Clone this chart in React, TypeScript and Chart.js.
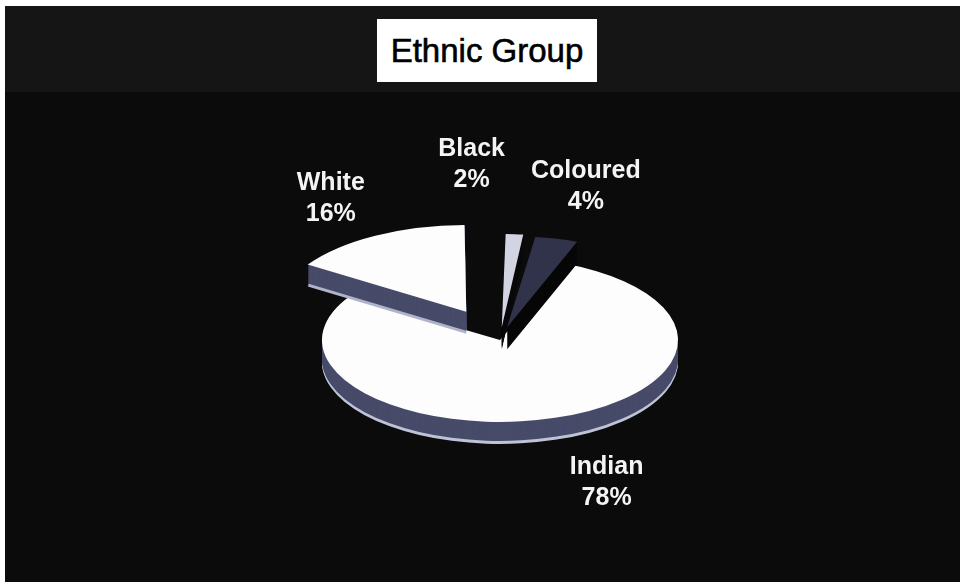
import React, { useEffect, useRef } from "react";
import { Chart, registerables } from "chart.js";

Chart.register(...registerables);

// ---- data ----
const categories = ["Black", "Coloured", "Indian", "White"];
const percentages = [2, 4, 78, 16];
const percentLabels = ["2%", "4%", "78%", "16%"];
const titleText = "Ethnic Group";

// ---- styles ----
const topColors = ["#d2d4e2", "#30334a", "#fdfdfd", "#fdfdfd"];
const sideColors = ["#0a0a0a", "#060606", "#474b69", "#474b69"];
const rimColors = ["#0a0a0a", "#060606", "#bfc3d6", "#b0b4ca"];
const explodeOffsets = [112, 112, 0, 280];
const SQUASH = 0.46;
const DEPTH = 22;
const LABEL_RADIUS = 345;
const labelNudges = [[-50, -17], [0, 0], [0, -8], [-3, -2]];
const drawOrder = [2, 1, 0, 3];

const pie3d = {
  id: "pie3d",
  beforeDatasetsDraw(chart: any) {
    const meta = chart.getDatasetMeta(0);
    const arcs = meta.data as any[];
    if (!arcs.length) return;
    const ctx = chart.ctx as CanvasRenderingContext2D;
    const cx = arcs[0].x;
    const cy = arcs[0].y;
    ctx.save();
    ctx.translate(cx, cy);
    ctx.scale(1, SQUASH);
    ctx.translate(-cx, -cy);
    for (const i of drawOrder) {
      const el = arcs[i];
      const orig = el.options;
      for (let k = DEPTH; k >= 1; k--) {
        const col = k >= DEPTH - 2 ? rimColors[i] : sideColors[i];
        el.options = { ...orig, backgroundColor: col, borderColor: col, borderWidth: 0 };
        ctx.save();
        ctx.translate(0, k / SQUASH);
        el.draw(ctx);
        ctx.restore();
      }
      el.options = orig;
      el.draw(ctx);
    }
    ctx.restore();
    return false;
  },
  afterDraw(chart: any) {
    const meta = chart.getDatasetMeta(0);
    const arcs = meta.data as any[];
    if (!arcs.length) return;
    const ctx = chart.ctx as CanvasRenderingContext2D;
    ctx.save();
    ctx.fillStyle = "#f4f4f4";
    ctx.font = 'bold 25px "Liberation Sans", Arial, sans-serif';
    ctx.textAlign = "center";
    ctx.textBaseline = "middle";
    arcs.forEach((el: any, i: number) => {
      const mid = (el.startAngle + el.endAngle) / 2;
      const x = el.x + Math.cos(mid) * LABEL_RADIUS + labelNudges[i][0];
      const y = el.y + Math.sin(mid) * LABEL_RADIUS * SQUASH + labelNudges[i][1];
      ctx.fillText(categories[i], x, y - 15.5);
      ctx.fillText(percentLabels[i], x, y + 15.5);
    });
    ctx.restore();
  },
};

export default function App() {
  const canvasRef = useRef<HTMLCanvasElement | null>(null);

  useEffect(() => {
    if (!canvasRef.current) return;
    const chart = new Chart(canvasRef.current, {
      type: "pie",
      data: {
        labels: categories,
        datasets: [
          {
            data: percentages,
            backgroundColor: topColors,
            borderColor: topColors,
            borderWidth: 0,
            offset: explodeOffsets,
            hoverOffset: 0,
          },
        ],
      },
      options: {
        responsive: false,
        devicePixelRatio: 1,
        animation: false,
        events: [],
        radius: 178,
        layout: { padding: { left: 38, right: 0, top: 98, bottom: 0 } },
        plugins: {
          legend: { display: false },
          tooltip: { enabled: false },
          title: { display: false },
        },
      } as any,
      plugins: [pie3d],
    });
    return () => chart.destroy();
  }, []);

  return (
    <div style={{ position: "fixed", left: 0, top: 0, width: 962, height: 582, background: "#ffffff", overflow: "hidden" }}>
      <div style={{ position: "absolute", left: 5, top: 6, width: 955, height: 86, background: "#151515" }} />
      <div style={{ position: "absolute", left: 5, top: 92, width: 955, height: 490, background: "#0b0b0b" }} />
      <div
        style={{
          position: "absolute",
          left: 377,
          top: 19,
          width: 220,
          height: 63,
          background: "#ffffff",
          color: "#000000",
          display: "flex",
          alignItems: "center",
          justifyContent: "center",
          fontFamily: '"Liberation Sans", Arial, sans-serif',
          fontSize: 33,
          WebkitTextStroke: "0.6px #000000",
        }}
      >
        {titleText}
      </div>
      <canvas ref={canvasRef} width={962} height={582} style={{ position: "absolute", left: 0, top: 0, width: 962, height: 582 }} />
    </div>
  );
}
